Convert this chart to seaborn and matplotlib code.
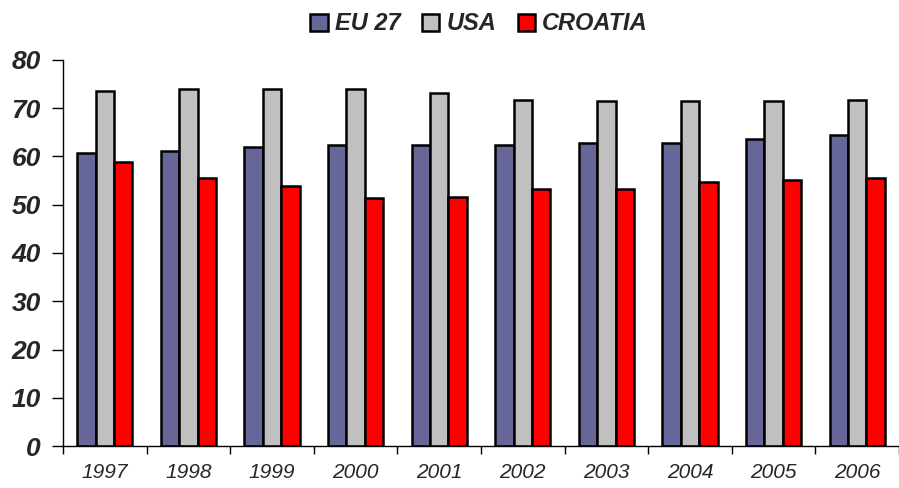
import numpy as np
import pandas as pd
import matplotlib.pyplot as plt
import seaborn as sns

years = ["1997", "1998", "1999", "2000", "2001", "2002", "2003", "2004", "2005", "2006"]
eu27 = [60.7, 61.1, 62.0, 62.4, 62.4, 62.4, 62.9, 62.9, 63.7, 64.5]
usa = [73.6, 74.0, 74.0, 74.0, 73.2, 71.8, 71.4, 71.4, 71.4, 71.8]
croatia = [58.9, 55.5, 53.8, 51.3, 51.7, 53.3, 53.3, 54.7, 55.1, 55.5]
series = ["EU 27", "USA", "CROATIA"]
colors = ["#666699", "#C0C0C0", "#FF0000"]

df = pd.DataFrame({"year": years * 3,
                   "value": eu27 + usa + croatia,
                   "series": [s for s in series for _ in years]})

sns.set_style("white")
plt.rcParams['font.family'] = ['Liberation Sans', 'DejaVu Sans']

fig = plt.figure(figsize=(8.99, 4.88), dpi=100)
ax = fig.add_axes([63 / 899, 42 / 488, 836 / 899, 386 / 488])

sns.barplot(data=df, x="year", y="value", hue="series", palette=colors,
            saturation=1, width=0.66, gap=0, edgecolor="black", linewidth=1.8,
            ax=ax, legend=True)

ax.set_xlim(-0.5, 9.5)
ax.set_ylim(0, 80)
ax.set_yticks(range(0, 81, 10))
ax.set_xlabel("")
ax.set_ylabel("")
for s in ["top", "right"]:
    ax.spines[s].set_visible(False)
ax.spines["left"].set_color("black")
ax.spines["bottom"].set_color("black")
ax.spines["left"].set_linewidth(1)
ax.spines["bottom"].set_linewidth(1)

ax.tick_params(axis="y", direction="out", length=8, width=1, color="black",
               left=True, pad=8)
for lbl in ax.get_yticklabels():
    lbl.set_fontsize(19)
    lbl.set_fontweight("bold")
    lbl.set_fontstyle("italic")

ax.set_xticks(np.arange(-0.5, 9.6, 1), minor=True)
ax.tick_params(axis="x", which="minor", direction="out", length=6, width=1,
               color="black", bottom=True)
ax.tick_params(axis="x", which="major", length=0, pad=12)
for lbl in ax.get_xticklabels():
    lbl.set_fontsize(15)
    lbl.set_fontstyle("italic")

handles, labels = ax.get_legend_handles_labels()
ax.legend(handles, labels, loc="center", bbox_to_anchor=((479 - 63) / 836, (446 - 24) / 386),
          ncol=3, frameon=False, handlelength=0.75, handleheight=0.75,
          handletextpad=0.3, columnspacing=0.9, borderaxespad=0,
          prop={"size": 17, "weight": "bold", "style": "italic"})

fig.savefig("out.png", dpi=100)
